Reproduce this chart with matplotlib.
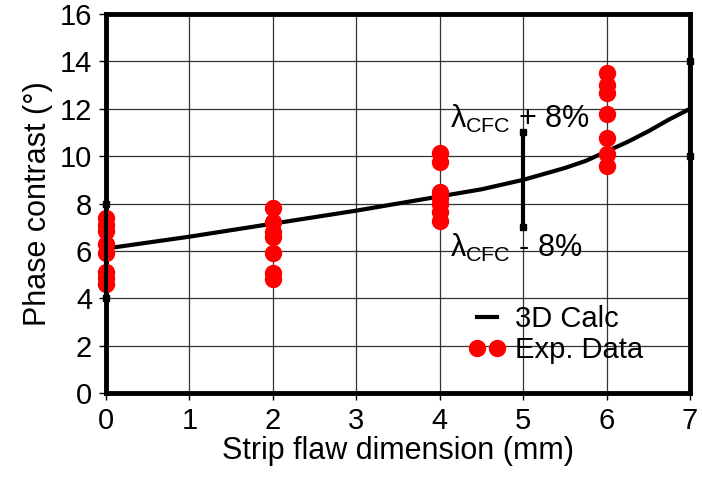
import matplotlib.pyplot as plt
import numpy as np

plt.rcParams['font.family'] = ['Liberation Sans', 'DejaVu Sans']
plt.rcParams['mathtext.fontset'] = 'custom'
plt.rcParams['mathtext.rm'] = 'Liberation Sans'
plt.rcParams['mathtext.it'] = 'Liberation Sans'

# 3D calculation curve
calc_x = [0, 1, 2, 3, 4, 4.5, 5, 5.25, 5.5, 5.75, 6, 6.25, 6.5, 6.75, 7]
calc_y = [6.1, 6.6, 7.15, 7.7, 8.3, 8.6, 9.0, 9.25, 9.5, 9.8, 10.2, 10.6, 11.05, 11.55, 12.0]

# experimental data
exp_x = [0] * 8 + [2] * 7 + [4] * 7 + [6] * 7
exp_y = [7.4, 7.1, 6.85, 6.3, 5.9, 5.1, 4.85, 4.6,
         7.8, 7.2, 6.8, 6.6, 5.9, 5.05, 4.8,
         10.15, 9.75, 8.5, 8.25, 8.0, 7.65, 7.25,
         13.5, 13.0, 12.65, 11.8, 10.75, 10.1, 9.6]

# +/- 8% wavelength bars
bar_x = [0, 5, 7]
bar_lo = [4, 7, 10]
bar_hi = [8, 11, 14]

fig = plt.figure(figsize=(7.02, 4.84), dpi=100)
ax = fig.add_axes([0.151, 0.188, 0.832, 0.783])

ax.plot(calc_x, calc_y, color='black', lw=3, label='3D Calc', zorder=3)
ax.plot(exp_x, exp_y, 'o', color='red', ms=11.5, mec='red', label='Exp. Data',
        zorder=4, clip_on=False)

for x, lo, hi in zip(bar_x, bar_lo, bar_hi):
    ax.plot([x, x], [lo, hi], color='black', lw=3, zorder=5, clip_on=False)
    ax.plot([x, x], [lo, hi], 's', color='black', ms=4, zorder=5, clip_on=False)

ax.text(4.12, 11.2, r'$\lambda_{\mathrm{CFC}}$ + 8%', fontsize=22)
ax.text(4.12, 5.75, r'$\lambda_{\mathrm{CFC}}$ - 8%', fontsize=22)

ax.set_xlim(0, 7)
ax.set_ylim(0, 16)
ax.set_xticks(range(0, 8))
ax.set_yticks(range(0, 17, 2))
ax.grid(True, color='black', lw=0.9, alpha=0.8)
ax.set_axisbelow(True)
for s in ax.spines.values():
    s.set_linewidth(3.5)
ax.tick_params(labelsize=21, length=5, width=1, pad=5)
ax.set_xlabel('Strip flaw dimension (mm)', fontsize=22, labelpad=1)
ax.set_ylabel('Phase contrast (°)', fontsize=22, labelpad=5)

ax.legend(loc='lower left', bbox_to_anchor=(0.6, 0.045), frameon=False, fontsize=21,
          handlelength=1.3, handletextpad=0.3, labelspacing=0.1, numpoints=2,
          borderaxespad=0)

fig.savefig('out.png', dpi=100)
